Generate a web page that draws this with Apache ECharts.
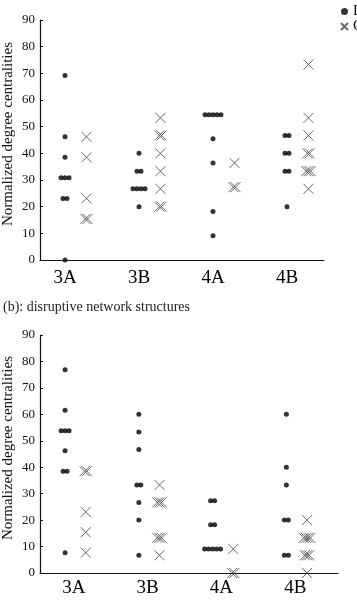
<!DOCTYPE html>
<html>
<head>
<meta charset="utf-8">
<script src="https://cdn.jsdelivr.net/npm/echarts@6/dist/echarts.min.js"></script>
<style>
  html, body { margin: 0; padding: 0; background: #fff; }
  #chart { width: 357px; height: 600px; }
</style>
</head>
<body>
<div id="chart"></div>
<script>
// 类别
const categories = ['3A', '3B', '4A', '4B'];
const legendNames = ['Leaders', 'Core members'];

// 上图：每个类别的数值（重复值并排显示）
const topDotValues = [
  [69.2, 46.2, 38.5, 30.8, 30.8, 30.8, 23.1, 23.1, 0],
  [40, 33.3, 33.3, 26.7, 26.7, 26.7, 26.7, 20],
  [54.5, 54.5, 54.5, 54.5, 54.5, 45.5, 36.4, 18.2, 9.1],
  [46.7, 46.7, 40, 40, 33.3, 33.3, 20]
];
const topCrossValues = [
  [46.2, 38.5, 23.1, 15.4, 15.4],
  [53.3, 46.7, 46.7, 40, 33.3, 26.7, 20, 20],
  [36.4, 27.3, 27.3],
  [73.3, 53.3, 46.7, 40, 40, 33.3, 33.3, 33.3, 26.7]
];

// 下图：(b) disruptive network structures
const bottomDotValues = [
  [76.9, 61.5, 53.8, 53.8, 53.8, 46.2, 38.5, 38.5, 7.7],
  [60, 53.3, 46.7, 33.3, 33.3, 26.7, 20, 6.7],
  [27.3, 27.3, 18.2, 18.2, 9.1, 9.1, 9.1, 9.1, 9.1],
  [60, 40, 33.3, 20, 20, 6.7, 6.7]
];
const bottomCrossValues = [
  [38.5, 38.5, 23.1, 15.4, 7.7],
  [33.3, 26.7, 26.7, 26.7, 13.3, 13.3, 13.3, 6.7],
  [9.1, 0, 0],
  [20, 13.3, 13.3, 13.3, 13.3, 6.7, 6.7, 6.7, 0]
];

const crossPath = 'path://M0,0L10,10M10,0L0,10';
const serif = 'Liberation Serif';

// 相同数值的点左右错开
function spread(groups, offset, step) {
  const out = [];
  groups.forEach((vals, i) => {
    const seen = {};
    vals.forEach(v => {
      const n = vals.filter(u => u === v).length;
      const k = seen[v] = (seen[v] === undefined ? 0 : seen[v] + 1);
      out.push([i + offset + (k - (n - 1) / 2) * step, v]);
    });
  });
  return out;
}

function xAxis(gridIndex, min, max, margin) {
  return {
    type: 'value',
    gridIndex: gridIndex,
    min: min,
    max: max,
    splitLine: { show: false },
    axisTick: { show: false },
    axisLine: { onZero: false, lineStyle: { color: '#111', width: 1.2 } },
    axisLabel: {
      customValues: [0, 1, 2, 3],
      formatter: v => categories[Math.round(v)],
      fontFamily: serif,
      fontSize: 19,
      color: '#000',
      margin: margin
    }
  };
}

function yAxis(gridIndex) {
  return {
    type: 'value',
    gridIndex: gridIndex,
    min: 0,
    max: 90,
    interval: 10,
    name: 'Normalized degree centralities',
    nameLocation: 'middle',
    nameGap: 24,
    nameMoveOverlap: false,
    nameTextStyle: { fontFamily: serif, fontSize: 15, color: '#111', padding: [0, 0, 0, 12] },
    splitLine: { show: false },
    axisLine: { show: true, onZero: false, lineStyle: { color: '#111', width: 1.2 } },
    axisTick: { show: true, inside: true, length: 3, lineStyle: { color: '#111' } },
    axisLabel: { fontFamily: serif, fontSize: 13, color: '#111', margin: 5 }
  };
}

const dotStyle = { color: '#000' };
const crossStyle = { color: 'transparent', borderColor: '#444', borderWidth: 1 };

const option = {
  animation: false,
  backgroundColor: '#fff',
  legend: {
    orient: 'vertical',
    left: 335,
    top: -1,
    itemGap: 0,
    itemWidth: 7,
    itemHeight: 7,
    textStyle: { fontFamily: serif, fontSize: 15, color: '#111' },
    data: [
      { name: legendNames[0], icon: 'circle' },
      { name: legendNames[1], icon: crossPath }
    ]
  },
  graphic: [{
    type: 'text',
    left: 3,
    top: 300,
    style: { text: '(b): disruptive network structures', font: '14px "Liberation Serif"', fill: '#222' }
  }],
  grid: [
    { left: 40, top: 20, width: 284, height: 240, outerBoundsMode: 'none', containLabel: false },
    { left: 40, top: 335, width: 298, height: 238, outerBoundsMode: 'none', containLabel: false }
  ],
  xAxis: [xAxis(0, -0.338, 3.5, 9), xAxis(1, -0.46, 3.58, 6)],
  yAxis: [yAxis(0), yAxis(1)],
  series: [
    {
      name: legendNames[0], type: 'scatter', xAxisIndex: 0, yAxisIndex: 0,
      symbol: 'circle', symbolSize: 5, itemStyle: dotStyle,
      data: spread(topDotValues, 0, 0.054)
    },
    {
      name: legendNames[1], type: 'scatter', xAxisIndex: 0, yAxisIndex: 0,
      symbol: crossPath, symbolSize: 10, itemStyle: crossStyle,
      data: spread(topCrossValues, 0.29, 0.03)
    },
    {
      name: legendNames[0], type: 'scatter', xAxisIndex: 1, yAxisIndex: 1,
      symbol: 'circle', symbolSize: 5, itemStyle: dotStyle,
      data: spread(bottomDotValues, -0.12, 0.054)
    },
    {
      name: legendNames[1], type: 'scatter', xAxisIndex: 1, yAxisIndex: 1,
      symbol: crossPath, symbolSize: 10, itemStyle: crossStyle,
      data: spread(bottomCrossValues, 0.16, 0.03)
    }
  ]
};

const chart = echarts.init(document.getElementById('chart'));
chart.setOption(option);
</script>
</body>
</html>
